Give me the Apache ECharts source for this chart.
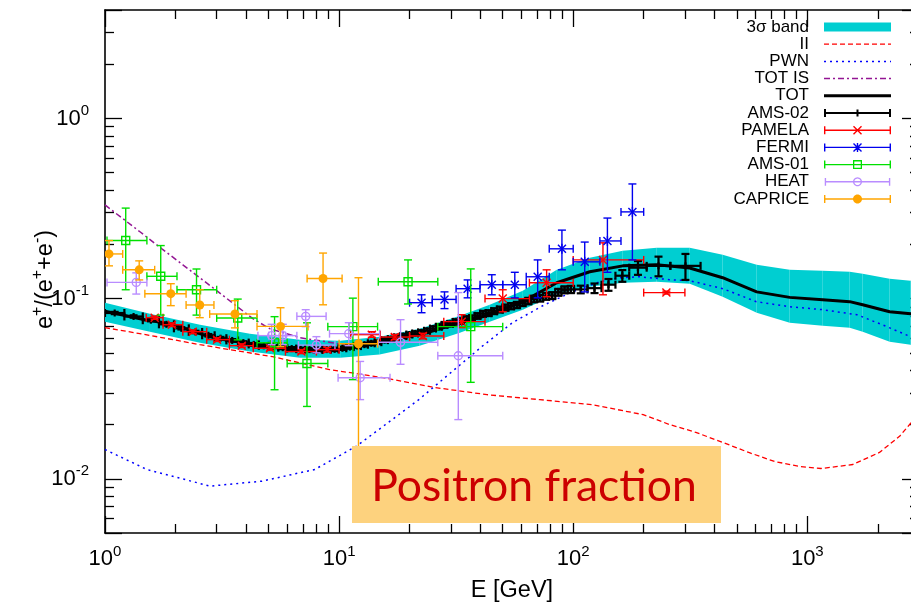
<!DOCTYPE html>
<html>
<head>
<meta charset="utf-8">
<title>Positron fraction</title>
<script src="https://cdn.jsdelivr.net/npm/echarts@6.0.0/dist/echarts.min.js"></script>
<style>
html, body { margin: 0; padding: 0; background: #fff; }
#chart { width: 911px; height: 606px; }
</style>
</head>
<body>
<div id="chart"></div>
<script>
// ---------- axis ranges ----------
const xRange = [1, 3000];
const yRange = [0.005, 4];

// ---------- model curves ----------
const bandE  = [1, 1.556, 2.545, 4.16, 6.8, 10.1, 14.9, 22.1, 32.8, 44.0, 60.9, 85.1, 117.7, 162.8, 227.5, 314.6, 435, 608, 841, 1164, 1517, 1724, 2248, 2762, 3000];
const bandHi = [0.0949, 0.0825, 0.0716, 0.0639, 0.0592, 0.0584, 0.0615, 0.0681, 0.0804, 0.0925, 0.1106, 0.1445, 0.1685, 0.1843, 0.1915, 0.1915, 0.1751, 0.154, 0.1445, 0.1428, 0.1410, 0.1374, 0.1289, 0.1257, 0.1241];
const bandLo = [0.0745, 0.0655, 0.0569, 0.0508, 0.0470, 0.0470, 0.0489, 0.0548, 0.0647, 0.0745, 0.0868, 0.106, 0.1164, 0.1226, 0.1241, 0.121, 0.1024, 0.0835, 0.0735, 0.0708, 0.0690, 0.0655, 0.0577, 0.0555, 0.0548];

const iiE   = [1, 1.556, 2.545, 5.2, 9.1, 15.4, 25.6, 42.8, 72, 120, 199, 258, 334, 436, 562, 725, 932, 1144, 1564, 2033, 2478, 2850, 3000];
const iiVal = [0.0690, 0.0625, 0.0555, 0.0476, 0.0404, 0.0364, 0.0321, 0.0293, 0.0275, 0.0258, 0.0227, 0.0200, 0.0181, 0.0159, 0.0140, 0.01247, 0.0117, 0.0114, 0.0120, 0.0140, 0.0172, 0.0213, 0.0230];

const pwnE   = [1, 1.51, 2.81, 4.68, 7.87, 11.85, 16.2, 21.9, 30.0, 40.8, 55, 75.5, 99.6, 130, 158, 192, 258, 315, 436, 606, 841, 1164, 1630, 2090, 2762, 3000];
const pwnVal = [0.01453, 0.01126, 0.00910, 0.00970, 0.01126, 0.01516, 0.0205, 0.0275, 0.0388, 0.0543, 0.0735, 0.0925, 0.1092, 0.124, 0.1306, 0.1322, 0.1274, 0.1257, 0.1135, 0.0961, 0.0902, 0.0868, 0.0814, 0.0716, 0.0615, 0.0595];

const totIsE   = [1, 1.41, 1.75, 2.15, 2.89, 3.52, 4.28, 5.06, 6.8, 10.6, 14.9, 18.2, 24.4, 32.8, 44, 60.9, 85.1, 117.7, 162.8, 227.5, 314.6, 435, 608, 841, 1164, 1517, 1724, 2248, 2762, 3000];
const totIsVal = [0.331, 0.235, 0.189, 0.154, 0.1149, 0.0942, 0.0774, 0.0681, 0.0607, 0.0555, 0.0585, 0.0615, 0.0660, 0.0738, 0.0817, 0.0965, 0.1228, 0.1413, 0.1522, 0.1542, 0.1482, 0.1308, 0.1092, 0.1018, 0.0988, 0.0964, 0.0927, 0.0848, 0.0827, 0.0814];

const totE   = [1, 1.48, 1.94, 2.43, 3.0, 3.95, 5.2, 6.6, 8.0, 10.1, 13.5, 18.2, 24.4, 32.8, 44, 60.9, 85.1, 117.7, 162.8, 227.5, 314.6, 435, 608, 841, 1164, 1517, 1724, 2248, 2762, 3000];
const totVal = [0.0850, 0.0764, 0.0722, 0.0650, 0.0600, 0.0569, 0.0541, 0.0524, 0.0519, 0.0524, 0.0565, 0.0607, 0.0655, 0.0735, 0.0814, 0.0962, 0.1225, 0.141, 0.152, 0.154, 0.148, 0.1306, 0.109, 0.1016, 0.0986, 0.0962, 0.0925, 0.0846, 0.0825, 0.0812];

// ---------- AMS-02 (bin edges, fraction, uncertainty) ----------
const amsEdges = [1.00, 1.21, 1.45, 1.70, 1.97, 2.28, 2.60, 2.94, 3.30, 3.70, 4.11, 4.54, 5.00, 5.50, 6.00, 6.56, 7.16, 7.80, 8.50, 9.21, 9.95,
  10.73, 11.54, 12.39, 13.27, 14.19, 15.15, 16.15, 17.18, 18.25, 19.37, 20.54, 21.76, 23.07, 24.45, 25.92, 27.43, 29.00, 30.62, 32.30,
  34.08, 35.97, 37.97, 40.09, 42.34, 44.73, 47.26, 49.95, 52.81, 55.85, 59.08, 62.52, 66.20, 70.15, 74.39, 78.94, 83.82, 89.06, 94.70,
  100.8, 115.1, 132.1, 151.5, 173.5, 206.0, 260.0, 350.0];
const amsVal = [0.0832, 0.0796, 0.0759, 0.0720, 0.0684, 0.0653, 0.0626, 0.0603, 0.0586, 0.0570, 0.0557, 0.0547, 0.0541, 0.0534, 0.0528,
  0.0524, 0.0521, 0.0519, 0.0521, 0.0523, 0.0530, 0.0538, 0.0545, 0.0555, 0.0565, 0.0573, 0.0588, 0.0596, 0.0610, 0.0620, 0.0632,
  0.0641, 0.0650, 0.0663, 0.0682, 0.0698, 0.0715, 0.0724, 0.0743, 0.0752, 0.0773, 0.0779, 0.0802, 0.0825, 0.0831, 0.0852, 0.0870,
  0.0892, 0.0908, 0.0922, 0.0948, 0.0970, 0.0996, 0.1006, 0.1030, 0.1040, 0.1085, 0.1120, 0.1125, 0.1125, 0.1143, 0.1195, 0.1340,
  0.1485, 0.1520, 0.1520];
const amsErr = [0.0012, 0.0012, 0.0011, 0.0011, 0.0010, 0.0010, 0.0010, 0.0010, 0.0010, 0.0010, 0.0010, 0.0010, 0.0010, 0.0010, 0.0010,
  0.0010, 0.0010, 0.0010, 0.0010, 0.0011, 0.0011, 0.0011, 0.0012, 0.0012, 0.0013, 0.0013, 0.0014, 0.0014, 0.0015, 0.0016, 0.0016,
  0.0017, 0.0018, 0.0019, 0.0020, 0.0021, 0.0022, 0.0023, 0.0024, 0.0025, 0.0026, 0.0027, 0.0028, 0.0030, 0.0031, 0.0032, 0.0033,
  0.0035, 0.0036, 0.0037, 0.0039, 0.0040, 0.0042, 0.0043, 0.0045, 0.0046, 0.0048, 0.0050, 0.0052, 0.0055, 0.0070, 0.0090, 0.0100,
  0.0130, 0.0190, 0.0250];

// ---------- PAMELA ----------
const pamE   = [1.63, 1.93, 2.37, 3.01, 3.84, 5.07, 6.9, 8.9, 13.8, 17.3, 22.8, 33.4, 50, 77, 134, 250];
const pamELo = [1.5, 1.77, 2.15, 2.72, 3.4, 4.3, 5.9, 8.0, 11.2, 15, 20, 28, 42, 65, 100, 200];
const pamEHi = [1.77, 2.15, 2.72, 3.4, 4.3, 5.9, 8.0, 10.0, 15, 20, 28, 42, 65, 100, 200, 300];
const pamVal = [0.0784, 0.0716, 0.0655, 0.0592, 0.0548, 0.0530, 0.0508, 0.0521, 0.0631, 0.0612, 0.0620, 0.0745, 0.100, 0.1225, 0.164, 0.108];
const pamYLo = [0.0768, 0.0700, 0.0640, 0.0578, 0.0535, 0.0517, 0.0495, 0.0506, 0.0610, 0.0592, 0.0598, 0.0690, 0.0845, 0.1024, 0.105, 0.106];
const pamYHi = [0.0800, 0.0732, 0.0670, 0.0606, 0.0561, 0.0543, 0.0521, 0.0536, 0.0655, 0.0632, 0.0642, 0.0814, 0.112, 0.1445, 0.204, 0.110];

// ---------- FERMI ----------
const fermiE   = [22.5, 28.2, 35.4, 44.9, 56.3, 70.5, 89.5, 112, 140, 179];
const fermiELo = [20, 25, 31.6, 40, 50, 63, 79, 100, 130, 160];
const fermiEHi = [25, 31.6, 40, 50, 63, 79, 100, 130, 160, 200];
const fermiVal = [0.0949, 0.099, 0.1135, 0.1194, 0.1194, 0.1322, 0.189, 0.160, 0.209, 0.303];
const fermiYLo = [0.0835, 0.088, 0.101, 0.105, 0.101, 0.101, 0.1445, 0.109, 0.14, 0.164];
const fermiYHi = [0.105, 0.109, 0.127, 0.1357, 0.140, 0.164, 0.24, 0.206, 0.28, 0.433];

// ---------- AMS-01 ----------
const ams01E   = [1.226, 1.73, 2.46, 3.69, 5.3, 7.29, 11.45, 19.7, 36.5];
const ams01ELo = [1.02, 1.51, 2.03, 3.0, 4.46, 6.0, 8.95, 14.7, 26.4];
const ams01EHi = [1.51, 2.03, 3.0, 4.46, 6.0, 8.95, 14.6, 26.4, 50];
const ams01Val = [0.210, 0.133, 0.112, 0.0781, 0.0569, 0.0436, 0.0699, 0.124, 0.0699];
const ams01YLo = [0.112, 0.081, 0.081, 0.059, 0.0312, 0.0252, 0.0355, 0.0934, 0.0343];
const ams01YHi = [0.318, 0.197, 0.146, 0.0994, 0.0794, 0.0734, 0.1006, 0.164, 0.1462];

// ---------- HEAT ----------
const heatE   = [1.36, 5.15, 5.75, 7.2, 8.0, 11.0, 12.3, 18.3, 32.3];
const heatELo = [1.02, 4.5, 5.0, 6.6, 6.7, 9.1, 9.9, 14.7, 26.4];
const heatEHi = [1.51, 5.9, 6.6, 8.8, 9.6, 14.9, 16.5, 26.4, 50];
const heatVal = [0.123, 0.0623, 0.0623, 0.0797, 0.0552, 0.0639, 0.0364, 0.0572, 0.0482];
const heatYLo = [0.106, 0.0555, 0.0555, 0.0699, 0.0500, 0.0548, 0.0275, 0.0432, 0.0213];
const heatYHi = [0.139, 0.0720, 0.0720, 0.0868, 0.0615, 0.0735, 0.0448, 0.0764, 0.108];

// ---------- CAPRICE ----------
const capE   = [1.04, 1.40, 1.91, 2.54, 3.59, 5.62, 8.54, 12.1];
const capELo = [0.93, 1.19, 1.48, 2.22, 2.8, 4.46, 7.3, 10.0];
const capEHi = [1.19, 1.63, 2.22, 2.92, 4.46, 7.37, 10.3, 14.6];
const capVal = [0.177, 0.1445, 0.1065, 0.0922, 0.0821, 0.0701, 0.1294, 0.0562];
const capYLo = [0.152, 0.127, 0.0914, 0.0784, 0.0688, 0.0541, 0.0924, 0.012];
const capYHi = [0.21, 0.162, 0.121, 0.112, 0.0974, 0.089, 0.179, 0.1306];

// ---------- colours and dash patterns ----------
const C_BAND = '#00CED1', C_II = '#ff0000', C_PWN = '#0000ff', C_TOTIS = '#931593', C_TOT = '#000000';
const C_AMS = '#000000', C_PAM = '#ff0000', C_FERMI = '#0000ee', C_AMS01 = '#00e000', C_HEAT = '#b98cff', C_CAP = '#ffa500';
const DASH_II = [5, 3], DASH_PWN = [2, 4], DASH_TOTIS = [6, 3, 2, 3];
const FONT = '"Liberation Sans", Arial, Helvetica, sans-serif';

// ---------- helpers ----------
const pairs = (xs, ys) => xs.map((x, i) => [x, ys[i]]);
const errRows = (e, lo, hi, v, ylo, yhi) => e.map((x, i) => [x, v[i], lo[i], hi[i], ylo[i], yhi[i]]);

const amsRows = amsVal.map((v, i) => {
  const lo = amsEdges[i], hi = amsEdges[i + 1];
  return [Math.sqrt(lo * hi), v, lo, hi, v - amsErr[i], v + amsErr[i]];
});
const bandRows = bandE.map((x, i) => [x, bandLo[i], bandHi[i]]);

// band drawn as one quad per segment between neighbouring samples
function bandRender(params, api) {
  const i = params.dataIndex;
  if (i >= bandE.length - 1) return null;
  const pts = [
    api.coord([bandE[i], bandHi[i]]), api.coord([bandE[i + 1], bandHi[i + 1]]),
    api.coord([bandE[i + 1], bandLo[i + 1]]), api.coord([bandE[i], bandLo[i]])
  ];
  return { type: 'polygon', shape: { points: pts }, style: { fill: C_BAND, stroke: null } };
}

// xy error bars with end caps and a point marker
function errRender(color, marker, lw) {
  return function (params, api) {
    const x = api.value(0), y = api.value(1);
    const p = api.coord([x, y]);
    const xl = api.coord([api.value(2), y])[0];
    const xh = api.coord([api.value(3), y])[0];
    const yl = api.coord([x, api.value(4)])[1];
    const yh = api.coord([x, api.value(5)])[1];
    const cap = 4;
    const ln = (x1, y1, x2, y2) => ({ type: 'line', shape: { x1, y1, x2, y2 }, style: { stroke: color, lineWidth: lw, fill: 'none' } });
    const kids = [
      ln(xl, p[1], xh, p[1]), ln(xl, p[1] - cap, xl, p[1] + cap), ln(xh, p[1] - cap, xh, p[1] + cap),
      ln(p[0], yl, p[0], yh), ln(p[0] - cap, yl, p[0] + cap, yl), ln(p[0] - cap, yh, p[0] + cap, yh)
    ];
    const r = 4;
    if (marker === 'plus') {
      kids.push(ln(p[0], p[1] - 3.5, p[0], p[1] + 3.5));
    } else if (marker === 'cross' || marker === 'star') {
      kids.push(ln(p[0] - r, p[1] - r, p[0] + r, p[1] + r), ln(p[0] - r, p[1] + r, p[0] + r, p[1] - r));
      if (marker === 'star') kids.push(ln(p[0], p[1] - r - 1, p[0], p[1] + r + 1));
    } else if (marker === 'square') {
      kids.push({ type: 'rect', shape: { x: p[0] - r, y: p[1] - r, width: 2 * r, height: 2 * r }, style: { stroke: color, lineWidth: lw, fill: 'none' } });
    } else if (marker === 'circle') {
      kids.push({ type: 'circle', shape: { cx: p[0], cy: p[1], r: r }, style: { stroke: color, lineWidth: lw, fill: 'none' } });
    } else if (marker === 'dot') {
      kids.push({ type: 'circle', shape: { cx: p[0], cy: p[1], r: 4.5 }, style: { fill: color, stroke: 'none' } });
    }
    return { type: 'group', children: kids };
  };
}

// legend glyphs (filled outlines inside a 67 x 9 box)
const ICON_W = 67;
function poly(pts, hole) {
  let a = 0;
  for (let i = 0; i < pts.length; i++) {
    const p = pts[i], q = pts[(i + 1) % pts.length];
    a += p[0] * q[1] - q[0] * p[1];
  }
  if ((a < 0) !== !!hole) pts = pts.slice().reverse();
  return 'M' + pts.map(p => p[0].toFixed(2) + ' ' + p[1].toFixed(2)).join('L') + 'Z';
}
const rectPts = (x, y, w, h) => [[x, y], [x + w, y], [x + w, y + h], [x, y + h]];
function segPts(x1, y1, x2, y2, w) {
  const dx = x2 - x1, dy = y2 - y1, L = Math.hypot(dx, dy);
  const nx = -dy / L * w / 2, ny = dx / L * w / 2;
  return [[x1 + nx, y1 + ny], [x2 + nx, y2 + ny], [x2 - nx, y2 - ny], [x1 - nx, y1 - ny]];
}
function circPts(cx, cy, r) {
  const out = [];
  for (let i = 0; i < 28; i++) { const a = i / 28 * 2 * Math.PI; out.push([cx + r * Math.cos(a), cy + r * Math.sin(a)]); }
  return out;
}
function errIcon(marker, lw) {
  const W = ICON_W, M = 4.5, c = W / 2;
  let d = poly(rectPts(0, M - lw / 2, W, lw)) + poly(rectPts(0, M - 4, lw, 8)) + poly(rectPts(W - lw, M - 4, lw, 8));
  if (marker === 'plus') d += poly(rectPts(c - lw / 2, M - 3.5, lw, 7));
  if (marker === 'cross' || marker === 'star') {
    d += poly(segPts(c - 4, M - 4, c + 4, M + 4, lw)) + poly(segPts(c - 4, M + 4, c + 4, M - 4, lw));
    if (marker === 'star') d += poly(rectPts(c - lw / 2, M - 4.5, lw, 9));
  }
  if (marker === 'square') d += poly(rectPts(c - 4.5, M - 4.5, 9, 9)) + poly(rectPts(c - 3.2, M - 3.2, 6.4, 6.4), true);
  if (marker === 'circle') d += poly(circPts(c, M, 4.6)) + poly(circPts(c, M, 3.3), true);
  if (marker === 'dot') d += poly(circPts(c, M, 4.5));
  return 'path://' + d;
}
// a dashed stroke laid out as filled pieces across the full icon width
function lineIcon(width, dash) {
  const pattern = dash || [ICON_W, 0];
  let d = '', x = 0, k = 0;
  while (x < ICON_W) {
    const len = pattern[k % pattern.length];
    if (k % 2 === 0) {
      const w = Math.min(len, ICON_W - x);
      if (w > 0.2) d += poly(rectPts(x, 0, w, width));
    }
    x += len; k++;
  }
  // keep the glyph's bounding box exactly ICON_W wide
  if (!/L67\.00 /.test(d)) d += poly(rectPts(ICON_W - 0.3, 0, 0.3, width));
  return 'path://' + d;
}

// tick labels as 10^n
function powLabel(v) {
  const e = Math.round(Math.log10(v));
  if (Math.abs(v / Math.pow(10, e) - 1) > 1e-6) return '';
  return '{b|10}{s|' + e + '}';
}
const labelRich = {
  b: { fontFamily: FONT, fontSize: 22, lineHeight: 30, color: '#000' },
  s: { fontFamily: FONT, fontSize: 15, lineHeight: 15, verticalAlign: 'top', color: '#000' }
};

function logAxis(pos, range, withLabels) {
  return {
    type: 'log', logBase: 10, min: range[0], max: range[1], position: pos, gridIndex: 0,
    axisLine: { show: true, onZero: false, lineStyle: { color: '#000', width: 1.6 } },
    axisTick: { show: true, inside: true, length: 17, lineStyle: { color: '#000', width: 1.3 } },
    minorTick: { show: true, splitNumber: 9, length: 9, lineStyle: { color: '#000', width: 1.3 } },
    splitLine: { show: false }, minorSplitLine: { show: false },
    axisLabel: withLabels ? {
      show: true, formatter: powLabel, rich: labelRich, color: '#000',
      showMinLabel: true, showMaxLabel: true, hideOverlap: false,
      margin: (pos === 'bottom') ? 11 : 16
    } : { show: false },
    axisPointer: { show: false }
  };
}

const xMain = Object.assign(logAxis('bottom', xRange, true), {
  name: 'E [GeV]', nameLocation: 'middle', nameGap: 46, nameMoveOverlap: false,
  nameTextStyle: { fontFamily: FONT, fontSize: 23.5, color: '#000' }
});
const yMain = Object.assign(logAxis('left', yRange, true), {
  name: '{n|e}{s|+}{n|/(e}{s|+}{n|+e}{s|-}{n|)}', nameLocation: 'middle', nameGap: 44, nameMoveOverlap: false,
  nameTextStyle: {
    fontFamily: FONT, fontSize: 23.5, color: '#000', padding: [0, 16, 0, 0],
    rich: {
      n: { fontFamily: FONT, fontSize: 23.5, lineHeight: 31, color: '#000' },
      s: { fontFamily: FONT, fontSize: 16, lineHeight: 16, verticalAlign: 'top', color: '#000' }
    }
  }
});

const lineSeries = (name, xs, ys, color, width, dash, z) => ({
  type: 'line', name, data: pairs(xs, ys), xAxisIndex: 0, yAxisIndex: 0,
  symbol: 'none', showSymbol: false, smooth: false, clip: true, silent: true, z,
  lineStyle: { color, width, type: dash }, itemStyle: { color, borderWidth: 0 }
});
const errSeries = (name, rows, color, marker, lw, z) => ({
  type: 'custom', name, data: rows, xAxisIndex: 0, yAxisIndex: 0, clip: true, silent: true, z,
  encode: { x: 0, y: 1 }, itemStyle: { color }, renderItem: errRender(color, marker, lw)
});

const chart = echarts.init(document.getElementById('chart'), null, { renderer: 'canvas' });
chart.setOption({
  animation: false,
  backgroundColor: '#ffffff',
  textStyle: { fontFamily: FONT },
  grid: { left: 105, top: 10, width: 814, height: 523, containLabel: false, outerBoundsMode: 'none' },
  xAxis: [xMain, logAxis('top', xRange, false)],
  yAxis: [yMain, logAxis('right', yRange, false)],
  legend: {
    orient: 'vertical', right: 20, top: 18.4, align: 'right', padding: 0, itemGap: 0,
    itemWidth: ICON_W, itemHeight: 9, selectedMode: false,
    textStyle: { fontFamily: FONT, fontSize: 17, color: '#000', lineHeight: 17.2, padding: [0, 10, 0, 0] },
    itemStyle: { borderWidth: 0 },
    data: [
      { name: '3σ band', icon: 'rect' },
      { name: 'II', icon: lineIcon(1.3, DASH_II), itemStyle: { color: C_II, borderWidth: 0 } },
      { name: 'PWN', icon: lineIcon(1.5, DASH_PWN), itemStyle: { color: C_PWN, borderWidth: 0 } },
      { name: 'TOT IS', icon: lineIcon(1.5, DASH_TOTIS), itemStyle: { color: C_TOTIS, borderWidth: 0 } },
      { name: 'TOT', icon: lineIcon(3, null), itemStyle: { color: C_TOT, borderWidth: 0 } },
      { name: 'AMS-02', icon: errIcon('plus', 2) },
      { name: 'PAMELA', icon: errIcon('cross', 1.4) },
      { name: 'FERMI', icon: errIcon('star', 1.4) },
      { name: 'AMS-01', icon: errIcon('square', 1.4) },
      { name: 'HEAT', icon: errIcon('circle', 1.4) },
      { name: 'CAPRICE', icon: errIcon('dot', 1.4) }
    ]
  },
  series: [
    {
      type: 'custom', name: '3σ band', data: bandRows, xAxisIndex: 0, yAxisIndex: 0, clip: true, silent: true, z: 1,
      encode: { x: 0, y: [1, 2] }, itemStyle: { color: C_BAND }, renderItem: bandRender
    },
    lineSeries('II', iiE, iiVal, C_II, 1.3, DASH_II, 2),
    lineSeries('PWN', pwnE, pwnVal, C_PWN, 1.5, DASH_PWN, 2),
    lineSeries('TOT IS', totIsE, totIsVal, C_TOTIS, 1.5, DASH_TOTIS, 2),
    lineSeries('TOT', totE, totVal, C_TOT, 3, 'solid', 3),
    errSeries('AMS-02', amsRows, C_AMS, 'plus', 2.2, 4),
    errSeries('PAMELA', errRows(pamE, pamELo, pamEHi, pamVal, pamYLo, pamYHi), C_PAM, 'cross', 1.4, 5),
    errSeries('FERMI', errRows(fermiE, fermiELo, fermiEHi, fermiVal, fermiYLo, fermiYHi), C_FERMI, 'star', 1.4, 6),
    errSeries('AMS-01', errRows(ams01E, ams01ELo, ams01EHi, ams01Val, ams01YLo, ams01YHi), C_AMS01, 'square', 1.4, 7),
    errSeries('HEAT', errRows(heatE, heatELo, heatEHi, heatVal, heatYLo, heatYHi), C_HEAT, 'circle', 1.4, 8),
    errSeries('CAPRICE', errRows(capE, capELo, capEHi, capVal, capYLo, capYHi), C_CAP, 'dot', 1.4, 9)
  ],
  graphic: [
    { type: 'rect', x: 352, y: 446, shape: { width: 369, height: 77 }, style: { fill: '#FDD27E' }, z: 100, silent: true },
    { type: 'text', x: 534, y: 487, z: 101, silent: true,
      style: { text: 'Positron fraction', font: '44.5px Lato, "Open Sans", sans-serif', fill: '#CC0000', align: 'center', verticalAlign: 'middle' } }
  ]
});
</script>
</body>
</html>
